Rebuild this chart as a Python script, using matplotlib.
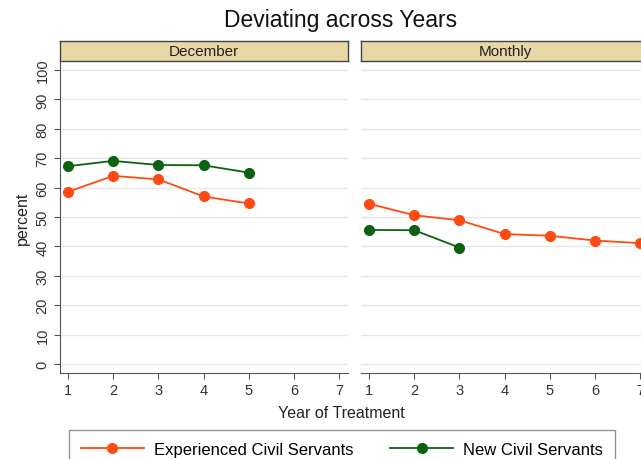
import matplotlib
matplotlib.use("Agg")
import matplotlib.pyplot as plt
from matplotlib.lines import Line2D

plt.rcParams['font.family'] = ['Liberation Sans', 'DejaVu Sans']

years = [1, 2, 3, 4, 5, 6, 7]
panels = ["December", "Monthly"]

dec_experienced = [58.6, 64.0, 62.8, 57.0, 54.6]
dec_new = [67.3, 69.1, 67.7, 67.6, 65.1]
mon_experienced = [54.5, 50.6, 48.9, 44.2, 43.6, 42.0, 41.1]
mon_new = [45.6, 45.5, 39.6]

series_labels = ["Experienced Civil Servants", "New Civil Servants"]
c_exp = "#FF4A12"
c_new = "#0B6312"
grid_c = "#E6E6E6"
axis_c = "#555555"
strip_c = "#E8D8A5"

W, H = 641, 460
fig = plt.figure(figsize=(W / 100, H / 100), dpi=100)


def px_axes(left, top, width, height):
    return fig.add_axes([left / W, 1 - (top + height) / H, width / W, height / H])


data = {
    "December": (dec_experienced, dec_new),
    "Monthly": (mon_experienced, mon_new),
}
lefts = [60, 361]
pw = 288
ms = 7

for i, (name, x0) in enumerate(zip(panels, lefts)):
    ax = px_axes(x0, 62, pw, 312)
    exp, new = data[name]
    ax.plot(years[:len(exp)], exp, color=c_exp, lw=1.3, marker="o", ms=ms, zorder=3)
    ax.plot(years[:len(new)], new, color=c_new, lw=1.3, marker="o", ms=ms, zorder=3)
    ax.set_xlim(0.82, 7.2)
    ax.set_ylim(-3.1, 103.1)
    ax.set_yticks(range(0, 101, 10))
    ax.set_xticks(years)
    ax.grid(axis="y", color=grid_c, lw=1.0)
    ax.set_axisbelow(True)
    for s in ["top", "right"]:
        ax.spines[s].set_visible(False)
    ax.spines["bottom"].set_color(axis_c)
    ax.spines["left"].set_color(axis_c)
    ax.tick_params(axis="both", colors=axis_c, labelcolor="#333333", labelsize=10.5, length=4)
    if i == 0:
        for lab in ax.get_yticklabels():
            lab.set_rotation(90)
            lab.set_va("center")
        ax.set_ylabel("percent", fontsize=11.5, color="#222222", labelpad=4)
    else:
        ax.spines["left"].set_visible(False)
        ax.tick_params(axis="y", left=False, labelleft=False)

    hd = px_axes(x0, 42, pw, 20)
    hd.set_facecolor(strip_c)
    hd.set_xticks([])
    hd.set_yticks([])
    for s in hd.spines.values():
        s.set_color("#444444")
        s.set_linewidth(1.0)
    hd.text(0.5, 0.5, name, ha="center", va="center", fontsize=11, color="#222222",
            transform=hd.transAxes)

fig.text(341 / W, 1 - 21 / H, "Deviating across Years", ha="center", va="center",
         fontsize=16.5, color="#111111")
fig.text(341 / W, 1 - 414 / H, "Year of Treatment", ha="center", va="center",
         fontsize=11.5, color="#222222")

handles = [
    Line2D([], [], color=c_exp, lw=1.3, marker="o", ms=ms),
    Line2D([], [], color=c_new, lw=1.3, marker="o", ms=ms),
]
leg = fig.legend(handles, series_labels, loc="upper left",
                 bbox_to_anchor=(69 / W, 1 - 431 / H), borderaxespad=0, ncol=2,
                 frameon=True, fontsize=12, fancybox=False, edgecolor="#777777",
                 handlelength=3.8, handletextpad=0.6, columnspacing=2.2,
                 borderpad=0.7)
leg.get_frame().set_linewidth(1.0)

fig.savefig("out.png", dpi=100)
